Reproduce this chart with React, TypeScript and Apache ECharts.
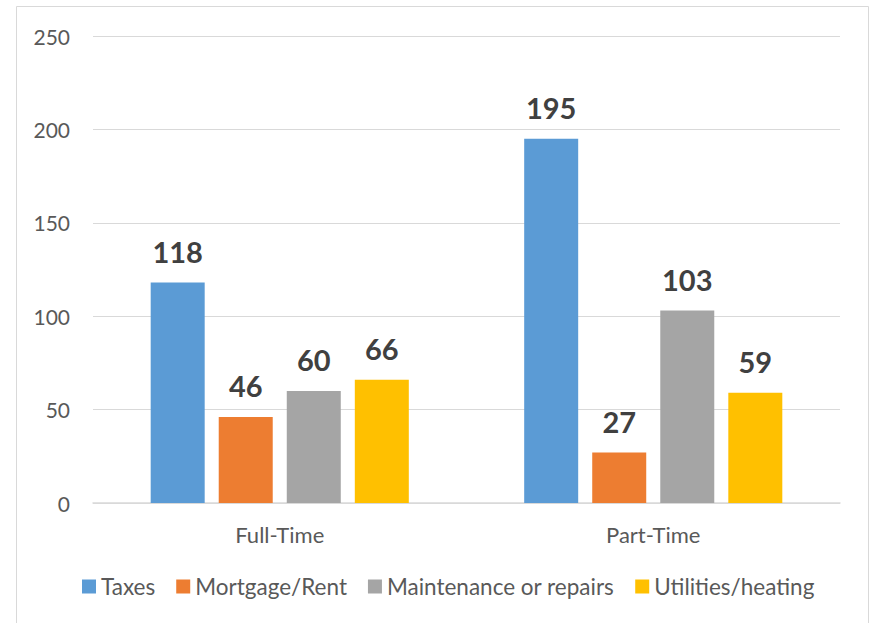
import React, { useEffect, useRef } from "react";
import * as echarts from "echarts";

const categories = ["Full-Time", "Part-Time"];
const seriesNames = ["Taxes", "Mortgage/Rent", "Maintenance or repairs", "Utilities/heating"];
const taxes = [118, 195];
const mortgage = [46, 27];
const maintenance = [60, 103];
const utilities = [66, 59];
const colors = ["#5B9BD5", "#ED7D31", "#A5A5A5", "#FFC000"];

export default function App() {
  const ref = useRef<HTMLDivElement>(null);
  useEffect(() => {
    const chart = echarts.init(ref.current!, null, { renderer: "svg" });
    const font = "Lato";
    const values = [taxes, mortgage, maintenance, utilities];
    chart.setOption({
      animation: false,
      textStyle: { fontFamily: font },
      graphic: [
        {
          type: "rect",
          shape: { x: 16.5, y: 6.5, width: 852, height: 640 },
          style: { fill: "none", stroke: "#D9D9D9", lineWidth: 1 },
          silent: true,
        },
      ],
      legend: {
        left: 82,
        top: 575,
        padding: 0,
        itemWidth: 14,
        itemHeight: 14,
        itemGap: 21,
        icon: "rect",
        textStyle: { fontFamily: font, fontSize: 22.5, color: "#595959", padding: [0, 0, 0, 0] },
        data: seriesNames,
      },
      grid: { left: 93, right: 35, top: 36, bottom: 120, containLabel: false },
      xAxis: {
        type: "category",
        data: categories,
        axisLine: { lineStyle: { color: "#D9D9D9", width: 1.5 } },
        axisTick: { show: false },
        axisLabel: { fontFamily: font, fontSize: 22, color: "#595959", margin: 20 },
      },
      yAxis: {
        type: "value",
        min: 0,
        max: 250,
        interval: 50,
        axisLine: { show: false },
        axisTick: { show: false },
        splitLine: { lineStyle: { color: "#D9D9D9", width: 1 } },
        axisLabel: { fontFamily: font, fontSize: 21, color: "#595959", margin: 23 },
      },
      series: seriesNames.map((name, i) => ({
        name,
        type: "bar",
        data: values[i],
        barWidth: 54,
        barGap: "26%",
        itemStyle: { color: colors[i] },
        label: {
          show: true,
          position: "top",
          distance: 17,
          fontFamily: font,
          fontSize: 29,
          fontWeight: "bold",
          color: "#404040",
        },
      })),
    });
    return () => chart.dispose();
  }, []);
  return (
    <div
      ref={ref}
      style={{ position: "fixed", left: 0, top: 0, width: 875, height: 623, background: "#fff" }}
    />
  );
}
